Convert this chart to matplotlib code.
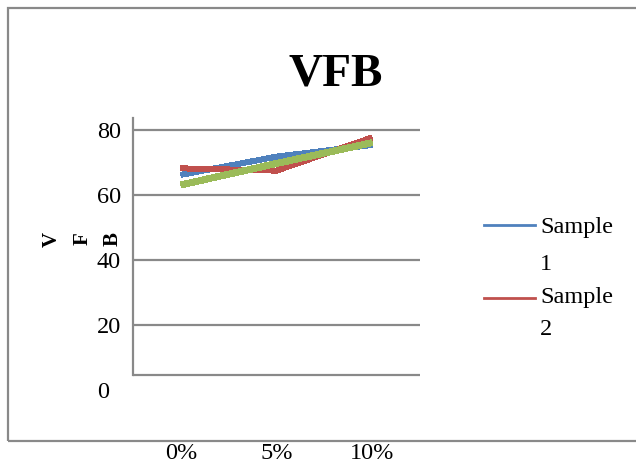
import matplotlib.pyplot as plt
from matplotlib.lines import Line2D
from matplotlib.patches import Rectangle

# Chart data
categories = ["0%", "5%", "10%"]
sample1 = [66.2, 71.8, 75.4]
sample2 = [68.2, 67.5, 77.7]
sample3 = [63.1, 69.7, 76.1]
y_ticks = [0, 20, 40, 60, 80]

W, H = 636, 463
plt.rcParams['font.family'] = ['Liberation Serif', 'DejaVu Serif']
grey = '#898989'


def fx(px):
    return px / W


def fy(py):
    return 1 - py / H


fig = plt.figure(figsize=(W / 100, H / 100), dpi=100)

# Outer chart border (right side runs off the picture)
fig.add_artist(Rectangle((fx(8), fy(441)), fx(700) - fx(8), fy(8) - fy(441),
                         transform=fig.transFigure, fill=False,
                         edgecolor=grey, linewidth=1.6))

# Plot area: y=0 sits at pixel 390, top at 118, 65 px per 20 units
ax = fig.add_axes([fx(133), fy(390), fx(420) - fx(133), fy(118) - fy(390)])
ymax = (390 - 118) / 65 * 20
ybase = (390 - 375) / 65 * 20
ax.set_ylim(0, ymax)
ax.set_xlim(-0.5, len(categories) - 0.5)

x = list(range(len(categories)))
ax.plot(x, sample1, color='#4F81BD', lw=3.6, antialiased=False,
        solid_capstyle='butt', zorder=3)
ax.plot(x, sample2, color='#C0504D', lw=3.6, antialiased=False,
        solid_capstyle='butt', zorder=4)
ax.plot(x, sample3, color='#9BBB59', lw=4.3, antialiased=False,
        solid_capstyle='butt', zorder=5)

for v in y_ticks[1:]:
    ax.axhline(v, color=grey, lw=1.6, zorder=1)
ax.axhline(ybase, color=grey, lw=1.6, zorder=1)

for s in ['top', 'right', 'bottom']:
    ax.spines[s].set_visible(False)
ax.spines['left'].set_color(grey)
ax.spines['left'].set_linewidth(1.6)
ax.spines['left'].set_bounds(ybase, ymax)

ax.set_yticks(y_ticks)
ax.set_yticklabels([str(v) for v in y_ticks], fontsize=17.5, ha='left')
ax.tick_params(axis='y', length=0, pad=26)
ax.set_xticks(x)
ax.set_xticklabels(categories, fontsize=17.5)
ax.tick_params(axis='x', length=0, pad=38)

# Title
fig.text(fx(336), fy(85), "VFB", fontsize=34, fontweight='bold',
         ha='center', va='baseline')

# Axis title, one rotated letter at a time
for letter, px in zip("VFB", [52, 83, 113]):
    fig.text(fx(px), fy(239), letter, fontsize=15, fontweight='bold',
             rotation=90, ha='center', va='center')

# Legend (only the first two entries fit)
legend_items = [("#4F81BD", "Sample", "1", 225, 233, 270),
                ("#C0504D", "Sample", "2", 298, 303, 335)]
for color, l1, l2, yl, b1, b2 in legend_items:
    fig.add_artist(Line2D([fx(484), fx(535)], [fy(yl), fy(yl)],
                          transform=fig.transFigure, color=color, lw=2))
    fig.text(fx(540), fy(b1), l1, fontsize=17.5, ha='left', va='baseline')
    fig.text(fx(540), fy(b2), l2, fontsize=17.5, ha='left', va='baseline')

fig.savefig("out.png", dpi=100)
